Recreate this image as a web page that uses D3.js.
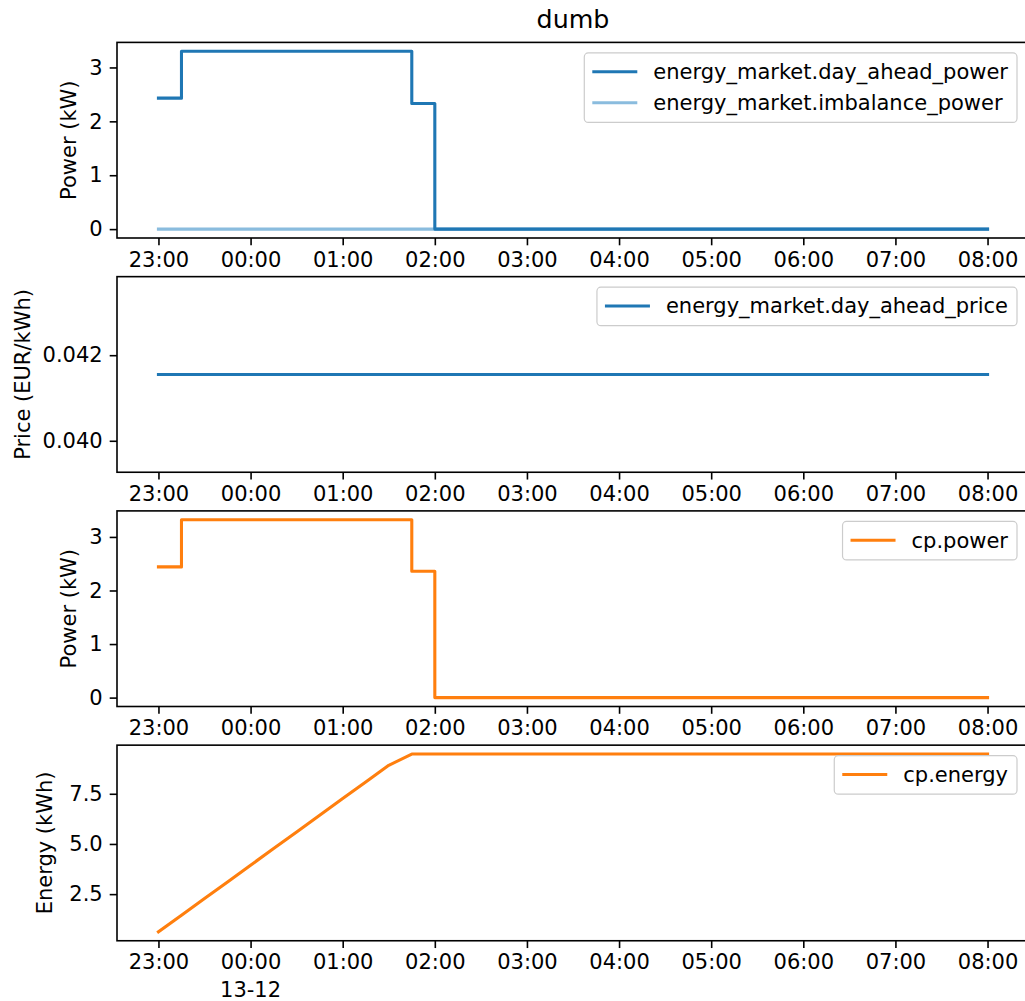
<!DOCTYPE html>
<html>
<head>
<meta charset="utf-8">
<script src="https://cdn.jsdelivr.net/npm/d3@7"></script>
<style>
  html, body { margin: 0; padding: 0; background: #fff; }
  svg { display: block; font-family: "DejaVu Sans", sans-serif; }
</style>
</head>
<body>
<svg id="chart" width="1025" height="1001"></svg>
<script>
// ---------------- data ----------------
const title = "dumb";
const dateLabel = "13-12";
const xTickTimes = ["2023-12-12 23:00","2023-12-13 00:00","2023-12-13 01:00","2023-12-13 02:00","2023-12-13 03:00",
                    "2023-12-13 04:00","2023-12-13 05:00","2023-12-13 06:00","2023-12-13 07:00","2023-12-13 08:00"];

const powerTimes = ["2023-12-12 23:00","2023-12-12 23:15","2023-12-13 01:45","2023-12-13 02:00","2023-12-13 08:00"];
const dayAheadPower = [2.43, 3.30, 2.33, 0, 0];
const cpPower = [2.44, 3.32, 2.36, 0, 0];

const imbalanceTimes = ["2023-12-12 23:00","2023-12-13 08:00"];
const imbalancePower = [0, 0];

const priceTimes = ["2023-12-12 23:00","2023-12-13 08:00"];
const dayAheadPrice = [0.04155, 0.04155];

const energyTimes = ["2023-12-12 23:00","2023-12-12 23:15","2023-12-12 23:30","2023-12-12 23:45",
                     "2023-12-13 00:00","2023-12-13 00:15","2023-12-13 00:30","2023-12-13 00:45",
                     "2023-12-13 01:00","2023-12-13 01:15","2023-12-13 01:30","2023-12-13 01:45",
                     "2023-12-13 08:00"];
const cpEnergy = [0.62, 1.45, 2.28, 3.11, 3.94, 4.77, 5.60, 6.43, 7.26, 8.09, 8.92, 9.48, 9.48];

const yTicksPower = [0, 1, 2, 3];
const yTicksPrice = [0.040, 0.042];
const yTicksEnergy = [2.5, 5.0, 7.5];

const blue = "#1f77b4", lightBlue = "#8abcde", orange = "#ff7f0e";

// ---------------- layout ----------------
const FS = 21, TFS = 25.3;
const parse = d3.timeParse("%Y-%m-%d %H:%M");
const svg = d3.select("#chart");
svg.append("rect").attr("width", 1025).attr("height", 1001).attr("fill", "#fff");

const left = 117, right = 1029;
const top0 = 42.4, step = 234.25, ph = 195.6;

function mplDomain(vals) {
  let lo = d3.min(vals), hi = d3.max(vals);
  if (hi === lo) { const e = Math.abs(lo) * 0.05 || 0.05; lo -= e; hi += e; }
  const p = (hi - lo) * 0.05;
  return [lo - p, hi + p];
}

const allT = powerTimes.concat(energyTimes).map(parse);
const tMin = d3.min(allT), tMax = d3.max(allT);
const tPad = (tMax - tMin) * 0.05;
const x = d3.scaleTime().domain([new Date(+tMin - tPad), new Date(+tMax + tPad)]).range([left, right]);

const panels = [
  { ylabel: "Power (kW)", labelX: 75.5, ticks: yTicksPower, fmt: d3.format("d"),
    series: [
      { name: "energy_market.imbalance_power", t: imbalanceTimes, v: imbalancePower, color: lightBlue, step: true, legendIdx: 1 },
      { name: "energy_market.day_ahead_power", t: powerTimes, v: dayAheadPower, color: blue, step: true, legendIdx: 0 }
    ] },
  { ylabel: "Price (EUR/kWh)", labelX: 29.5, ticks: yTicksPrice, fmt: d3.format(".3f"),
    series: [
      { name: "energy_market.day_ahead_price", t: priceTimes, v: dayAheadPrice, color: blue, step: true, legendIdx: 0 }
    ] },
  { ylabel: "Power (kW)", labelX: 75.5, ticks: yTicksPower, fmt: d3.format("d"),
    series: [
      { name: "cp.power", t: powerTimes, v: cpPower, color: orange, step: true, legendIdx: 0 }
    ] },
  { ylabel: "Energy (kWh)", labelX: 52, ticks: yTicksEnergy, fmt: d3.format(".1f"),
    series: [
      { name: "cp.energy", t: energyTimes, v: cpEnergy, color: orange, step: false, legendIdx: 0 }
    ] }
];

svg.append("text").attr("x", (left + right) / 2).attr("y", 28.3)
  .attr("text-anchor", "middle").attr("font-size", TFS).attr("fill", "#000").text(title);

panels.forEach((p, i) => {
  const top = top0 + i * step, bottom = top + ph;
  const allV = p.series.flatMap(s => s.v);
  const y = d3.scaleLinear().domain(mplDomain(allV)).range([bottom, top]);
  const g = svg.append("g");

  const clipId = "clip" + i;
  svg.append("clipPath").attr("id", clipId).append("rect")
    .attr("x", left).attr("y", top).attr("width", right - left).attr("height", ph);

  // lines
  p.series.forEach(s => {
    const pts = s.t.map((t, k) => [parse(t), s.v[k]]);
    const line = d3.line().x(d => x(d[0])).y(d => y(d[1])).curve(s.step ? d3.curveStepAfter : d3.curveLinear);
    g.append("path").attr("d", line(pts)).attr("fill", "none").attr("stroke", s.color)
      .attr("stroke-width", 3.1).attr("stroke-linejoin", "round").attr("stroke-linecap", "square")
      .attr("clip-path", `url(#${clipId})`);
  });

  // axes
  const xAxis = d3.axisBottom(x).tickValues(xTickTimes.map(parse)).tickFormat(d3.timeFormat("%H:%M"))
    .tickSize(7.3).tickPadding(7);
  const gx = g.append("g").attr("transform", `translate(0,${bottom})`).call(xAxis);
  const yAxis = d3.axisLeft(y).tickValues(p.ticks).tickFormat(p.fmt).tickSize(7.3).tickPadding(7);
  const gy = g.append("g").attr("transform", `translate(${left},0)`).call(yAxis);
  [gx, gy].forEach(a => {
    a.select(".domain").remove();
    a.selectAll(".tick line").attr("stroke", "#000").attr("stroke-width", 1.6);
    a.selectAll(".tick text").attr("font-size", FS).attr("fill", "#000").attr("font-family", "DejaVu Sans");
  });
  gx.selectAll(".tick text").attr("dy", null).attr("y", 28.5);

  // spines
  g.append("rect").attr("x", left).attr("y", top).attr("width", right - left).attr("height", ph)
    .attr("fill", "none").attr("stroke", "#000").attr("stroke-width", 1.6);

  // y label
  g.append("text").attr("transform", `translate(${p.labelX},${(top + bottom) / 2}) rotate(-90)`)
    .attr("text-anchor", "middle").attr("font-size", FS).attr("fill", "#000").text(p.ylabel);

  // legend
  const entries = p.series.slice().sort((a, b) => a.legendIdx - b.legendIdx);
  const lg = g.append("g");
  const texts = entries.map((s, k) => lg.append("text").attr("font-size", FS).attr("fill", "#000").text(s.name));
  const tw = d3.max(texts, t => t.node().getComputedTextLength());
  const boxR = 1017, boxT = top + 10.5;
  const boxW = 69 + tw + 9;
  const boxL = boxR - boxW;
  const boxH = 38.5 + (entries.length - 1) * 31;
  lg.insert("rect", "text").attr("x", boxL).attr("y", boxT).attr("width", boxW).attr("height", boxH)
    .attr("rx", 4).attr("fill", "#fff").attr("fill-opacity", 0.8).attr("stroke", "#cccccc").attr("stroke-width", 1.2);
  entries.forEach((s, k) => {
    const cy = boxT + 18.8 + k * 31;
    lg.append("line").attr("x1", boxL + 8).attr("x2", boxL + 53).attr("y1", cy).attr("y2", cy)
      .attr("stroke", s.color).attr("stroke-width", 3.1);
    texts[k].attr("x", boxL + 69).attr("y", cy).attr("dy", "0.35em");
  });

  if (i === panels.length - 1) {
    g.append("text").attr("x", x(parse("2023-12-13 00:00"))).attr("y", bottom + 56)
      .attr("text-anchor", "middle").attr("font-size", FS).attr("fill", "#000").text(dateLabel);
  }
});
</script>
</body>
</html>
